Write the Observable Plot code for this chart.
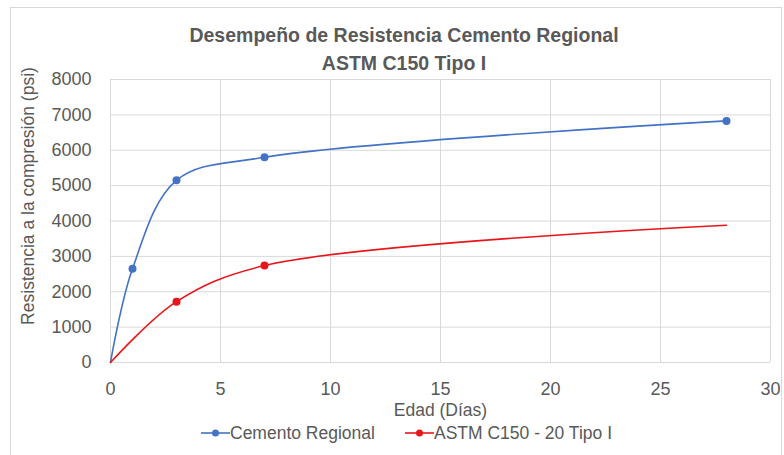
<!DOCTYPE html>
<html><head><meta charset="utf-8">
<script src="https://cdn.jsdelivr.net/npm/d3@7"></script>
<script src="https://cdn.jsdelivr.net/npm/@observablehq/plot@0.6"></script>
<style>
body{margin:0;background:#fff;font-family:"Liberation Sans",Arial,sans-serif;}
#wrap{position:relative;width:784px;height:455px;overflow:hidden;background:#fff;}
#frame{position:absolute;left:10px;top:7px;width:772px;height:470px;border:1px solid #d9d9d9;box-sizing:border-box;}
#title{position:absolute;left:0;width:808px;top:21px;text-align:center;color:#595959;font-weight:bold;font-size:19.5px;line-height:28px;}
#chart{position:absolute;left:0;top:0;}
#legend{position:absolute;top:423px;left:0;width:784px;height:20px;color:#595959;font-size:17.5px;}
.li{position:absolute;top:0;display:flex;align-items:center;height:20px;white-space:nowrap;}
</style></head>
<body><div id="wrap"><div id="frame"></div><div id="chart"></div><div id="title"></div><div id="legend"></div></div>
<script>
const titleLines = ["Desempeño de Resistencia Cemento Regional", "ASTM C150 Tipo I"];
const xLabel = "Edad (Días)";
const yLabel = "Resistencia a la compresión (psi)";
const seriesNames = ["Cemento Regional", "ASTM C150 - 20 Tipo I"];
const seriesColors = ["#4472C4", "#E8161B"];
const regionalDays = [0, 1, 3, 7, 28];
const regionalPsi = [0, 2650, 5150, 5800, 6830];
const regionalMarkerDays = [1, 3, 7, 28];
const astmDays = [0, 3, 7, 28];
const astmPsi = [0, 1720, 2740, 3880];
const astmMarkerDays = [3, 7];
const xTicks = [0, 5, 10, 15, 20, 25, 30];
const yTicks = [0, 1000, 2000, 3000, 4000, 5000, 6000, 7000, 8000];

const data = [
  ...regionalDays.map((d, i) => ({series: seriesNames[0], day: d, psi: regionalPsi[i], mark: regionalMarkerDays.includes(d)})),
  ...astmDays.map((d, i) => ({series: seriesNames[1], day: d, psi: astmPsi[i], mark: astmMarkerDays.includes(d)}))
];

document.getElementById("title").innerHTML = titleLines.map(t => `<div>${t}</div>`).join("");

const txt = "#595959";
const plot = Plot.plot({
  width: 784, height: 455,
  marginLeft: 110, marginRight: 14, marginTop: 79, marginBottom: 93,
  style: {fontFamily: "'Liberation Sans', Arial, sans-serif", fontSize: "18px", color: txt, background: "transparent", overflow: "visible"},
  x: {domain: [0, 30], ticks: xTicks},
  y: {domain: [0, 8000], ticks: yTicks},
  color: {domain: seriesNames, range: seriesColors},
  marks: [
    Plot.gridX(xTicks, {stroke: "#d9d9d9", strokeOpacity: 1}),
    Plot.gridY(yTicks, {stroke: "#d9d9d9", strokeOpacity: 1}),
    Plot.axisX(xTicks, {tickSize: 0, tickPadding: 20, label: null, tickFormat: d => String(d), fill: txt, fontSize: 18}),
    Plot.axisY(yTicks, {tickSize: 0, tickPadding: 19, label: null, tickFormat: d => String(d), fill: txt, fontSize: 18}),
    Plot.line(data, {x: "day", y: "psi", z: "series", stroke: "series", strokeWidth: 1.6, curve: "catmull-rom"}),
    Plot.dot(data.filter(d => d.mark), {x: "day", y: "psi", fill: "series", r: 4, stroke: "none"}),
    Plot.text([xLabel], {frameAnchor: "bottom", dy: 53, fill: txt, fontSize: 17.5}),
    Plot.text([yLabel], {frameAnchor: "left", textAnchor: "middle", dx: -82, dy: -25, rotate: -90, fill: txt, fontSize: 17.5})
  ]
});
document.getElementById("chart").appendChild(plot);

const legendPos = [201, 405];
const legend = document.getElementById("legend");
seriesNames.forEach((name, i) => {
  const el = document.createElement("div");
  el.className = "li";
  el.style.left = legendPos[i] + "px";
  el.innerHTML = `<svg width="29" height="20"><line x1="0" x2="29" y1="10" y2="10" stroke="${seriesColors[i]}" stroke-width="1.6"/><circle cx="14.5" cy="10" r="3.5" fill="${seriesColors[i]}"/></svg><span>${name}</span>`;
  legend.appendChild(el);
});
</script></body></html>
